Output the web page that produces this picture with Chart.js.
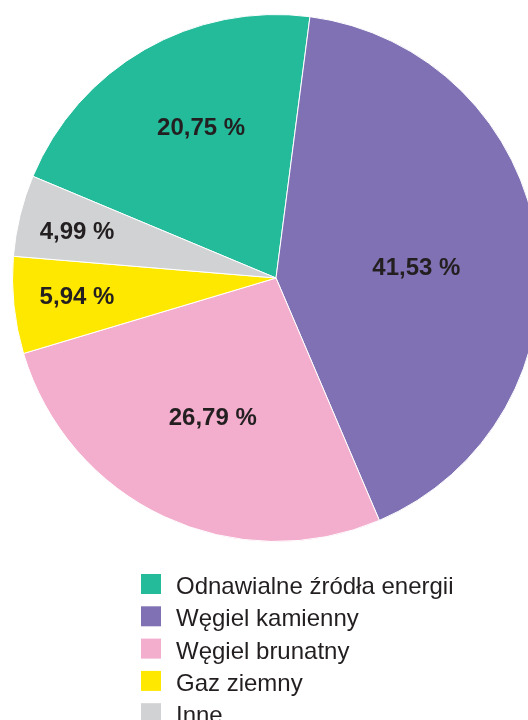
<!DOCTYPE html>
<html>
<head>
<meta charset="utf-8">
<script src="https://cdn.jsdelivr.net/npm/chart.js@4.4.1/dist/chart.umd.min.js"></script>
<style>
  html, body { margin: 0; padding: 0; background: #ffffff; overflow: hidden; width: 528px; height: 720px; }
  #wrap { position: absolute; left: 0; top: 0; width: 552px; height: 720px; }
</style>
</head>
<body>
<div id="wrap"><canvas id="c" width="552" height="720"></canvas></div>
<script>
const categories = ['Odnawialne źródła energii', 'Węgiel kamienny', 'Węgiel brunatny', 'Gaz ziemny', 'Inne'];
const shares = [20.75, 41.53, 26.79, 5.94, 4.99];
const sliceColors = ['#23BB9A', '#7F71B3', '#F3ADCD', '#FFE800', '#D1D2D4'];

const fmt = v => v.toFixed(2).replace('.', ',') + ' %';

const sliceLabels = {
  id: 'sliceLabels',
  afterDatasetsDraw(chart, args, opts) {
    const ctx = chart.ctx;
    const meta = chart.getDatasetMeta(0);
    const ds = chart.data.datasets[0];
    ctx.save();
    ctx.font = opts.font;
    ctx.fillStyle = opts.color;
    ctx.textAlign = 'center';
    ctx.textBaseline = 'middle';
    meta.data.forEach((arc, i) => {
      const p = arc.getProps(['x', 'y', 'startAngle', 'endAngle', 'outerRadius'], true);
      const mid = (p.startAngle + p.endAngle) / 2 + opts.turn[i] * Math.PI / 180;
      const r = p.outerRadius * opts.radial[i];
      ctx.fillText(fmt(ds.data[i]), p.x + Math.cos(mid) * r, p.y + Math.sin(mid) * r);
    });
    ctx.restore();
  }
};

const listLegend = {
  id: 'listLegend',
  afterDraw(chart, args, opts) {
    const ctx = chart.ctx;
    const ds = chart.data.datasets[0];
    ctx.save();
    ctx.font = opts.font;
    ctx.textAlign = 'left';
    ctx.textBaseline = 'alphabetic';
    chart.data.labels.forEach((lab, i) => {
      const top = opts.top + i * opts.step;
      ctx.fillStyle = ds.backgroundColor[i];
      ctx.fillRect(opts.left, top, opts.box, opts.box);
      ctx.fillStyle = opts.color;
      ctx.fillText(lab, opts.textLeft, top + opts.box);
    });
    ctx.restore();
  }
};

new Chart(document.getElementById('c'), {
  type: 'pie',
  data: {
    labels: categories,
    datasets: [{
      data: shares,
      backgroundColor: sliceColors,
      borderColor: '#ffffff',
      borderWidth: 1
    }]
  },
  options: {
    responsive: false,
    animation: false,
    devicePixelRatio: 1,
    rotation: -67.3,
    layout: { padding: { left: 12, right: 12, top: 14, bottom: 178 } },
    plugins: {
      legend: { display: false },
      tooltip: { enabled: false },
      sliceLabels: {
        font: 'bold 24px "Liberation Sans", Arial, sans-serif',
        color: '#231F20',
        radial: [0.635, 0.534, 0.585, 0.759, 0.775],
        turn: [3.35, 3.9, -0.9, 0.3, -0.7]
      },
      listLegend: {
        font: '24px "Liberation Sans", Arial, sans-serif',
        color: '#231F20',
        left: 141, textLeft: 176, top: 574, step: 32.3, box: 20
      }
    }
  },
  plugins: [sliceLabels, listLegend]
});
</script>
</body>
</html>
